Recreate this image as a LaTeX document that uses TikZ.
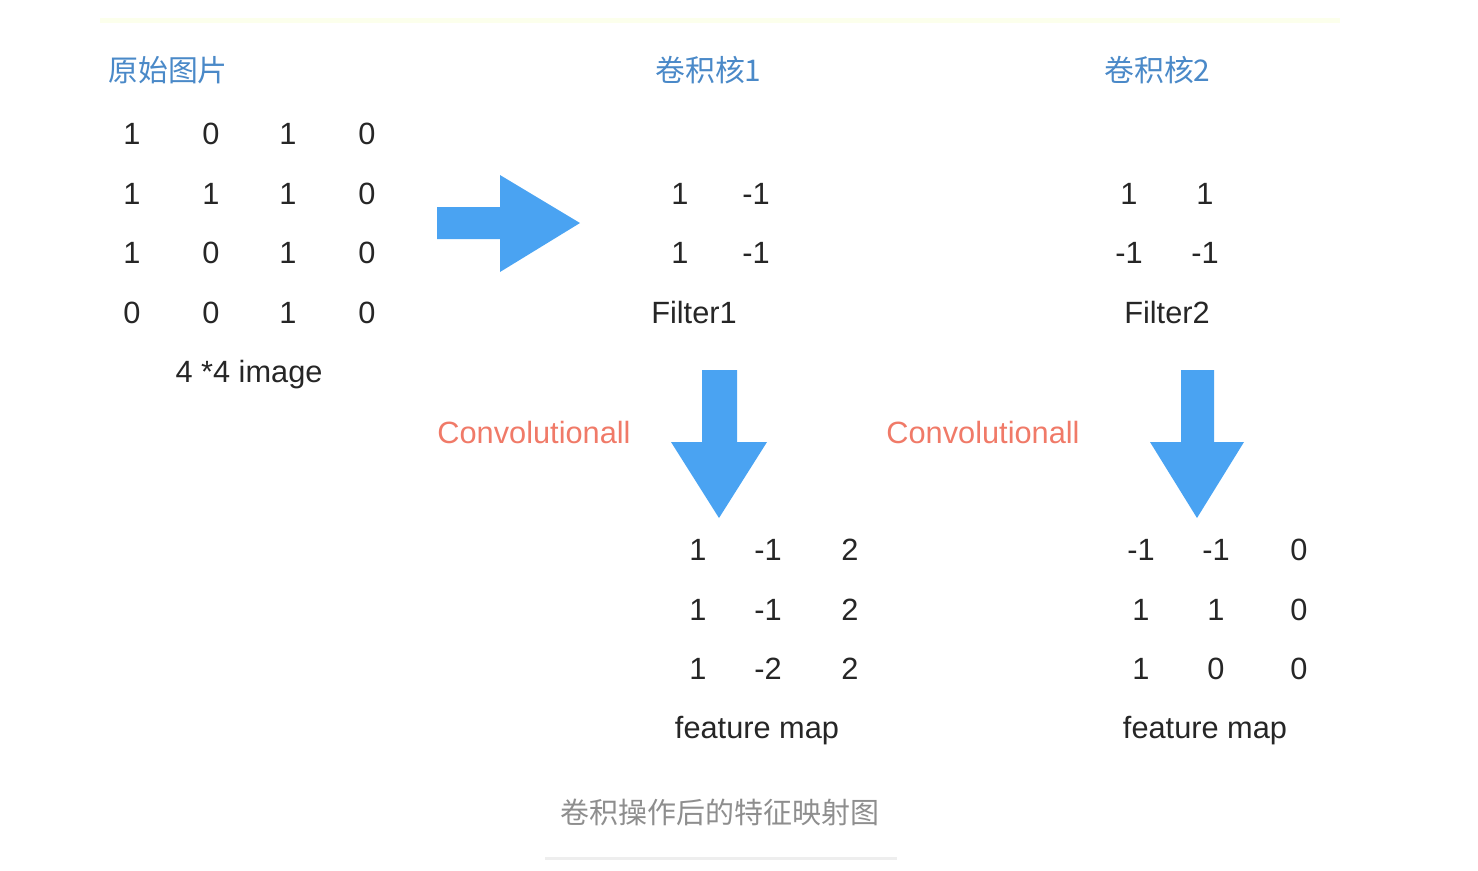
\documentclass[tikz,border=0pt]{standalone}
\usepackage{fontspec}
\setmainfont{Liberation Sans}
\newfontfamily\cjk{Noto Sans CJK SC}
\usepackage{tikz}
\usetikzlibrary{positioning}
\definecolor{ConvBlue}{HTML}{4AA3F2}
\definecolor{ConvHead}{HTML}{4A89C8}
\definecolor{ConvRed}{HTML}{F07A68}
\definecolor{ConvGray}{HTML}{8E8E8E}
\definecolor{ConvRule}{HTML}{EEEEEE}
\definecolor{ConvPale}{HTML}{FCFFEC}

\begin{document}
\begin{tikzpicture}[x=0.02cm, y=-0.02cm,
    num/.style={font=\fontsize{17.5}{20}\selectfont, text=black!85, inner sep=0pt},
    head/.style={font=\cjk\fontsize{17}{20}\selectfont, text=ConvHead, inner sep=0pt, anchor=west},
    conv/.style={font=\fontsize{17.5}{20}\selectfont, text=ConvRed, inner sep=0pt},
    bigarrow/.style={fill=ConvBlue, draw=none}
  ]
    \useasboundingbox (0,0) rectangle (1478,870);
    % rules
    \fill[ConvPale] (100,18) rectangle (1340,23);
    \fill[ConvRule] (545,857) rectangle (897,860);
    % headings
    \node[head] (imgtitle) at (108,70) {原始图片};
    \node[head] (k1title) at (655,70) {卷积核1};
    \node[head] (k2title) at (1104,70) {卷积核2};
    % 4x4 image
    \foreach \row/\y/\vals in {1/134/{1,0,1,0}, 2/194/{1,1,1,0}, 3/253/{1,0,1,0}, 4/313/{0,0,1,0}} {
      \foreach \v [count=\col] in \vals {
        \pgfmathsetmacro{\xx}{{132,211,288,367}[\col-1]}
        \node[num] (img-\row-\col) at (\xx,\y) {\v};
      }
    }
    \node[num] (imglabel) at (249,375) {4 *4 image};
    % filter 1
    \node[num] (fa-1-1) at (680,194) {1};
    \node[num] (fa-1-2) at (756,194) {-1};
    \node[num] (fa-2-1) at (680,253) {1};
    \node[num] (fa-2-2) at (756,253) {-1};
    \node[num] (falabel) at (694,313) {Filter1};
    % filter 2
    \node[num] (fb-1-1) at (1129,194) {1};
    \node[num] (fb-1-2) at (1205,194) {1};
    \node[num] (fb-2-1) at (1129,253) {-1};
    \node[num] (fb-2-2) at (1205,253) {-1};
    \node[num] (fblabel) at (1167,313) {Filter2};
    % block arrows
    \fill[bigarrow] (437,207) -- (500,207) -- (500,175) -- (580,223)
      -- (500,272) -- (500,239) -- (437,239) -- cycle;
    \fill[bigarrow] (702,370) -- (737,370) -- (737,442) -- (767,442)
      -- (719,518) -- (671,442) -- (702,442) -- cycle;
    \fill[bigarrow] (1181,370) -- (1214,370) -- (1214,442) -- (1244,442)
      -- (1197,518) -- (1150,442) -- (1181,442) -- cycle;
    \node[conv] (conva) at (534,432) {Convolutionall};
    \node[conv] (convb) at (983,432) {Convolutionall};
    % feature map 1
    \foreach \row/\y/\vals in {1/550/{1,-1,2}, 2/610/{1,-1,2}, 3/669/{1,-2,2}} {
      \foreach \v [count=\col] in \vals {
        \pgfmathsetmacro{\xx}{{698,768,850}[\col-1]}
        \node[num] (ma-\row-\col) at (\xx,\y) {\v};
      }
    }
    \node[num] (malabel) at (757,731) {feature map};
    % feature map 2
    \foreach \row/\y/\vals in {1/550/{-1,-1,0}, 2/610/{1,1,0}, 3/669/{1,0,0}} {
      \foreach \v [count=\col] in \vals {
        \pgfmathsetmacro{\xx}{{1141,1216,1299}[\col-1]}
        \node[num] (mb-\row-\col) at (\xx,\y) {\v};
      }
    }
    \node[num] (mblabel) at (1205,731) {feature map};
    % caption
    \node[font=\cjk\fontsize{16.5}{20}\selectfont, text=ConvGray, inner sep=0pt] (caption) at (720,812) {卷积操作后的特征映射图};
  \end{tikzpicture}
\end{document}
